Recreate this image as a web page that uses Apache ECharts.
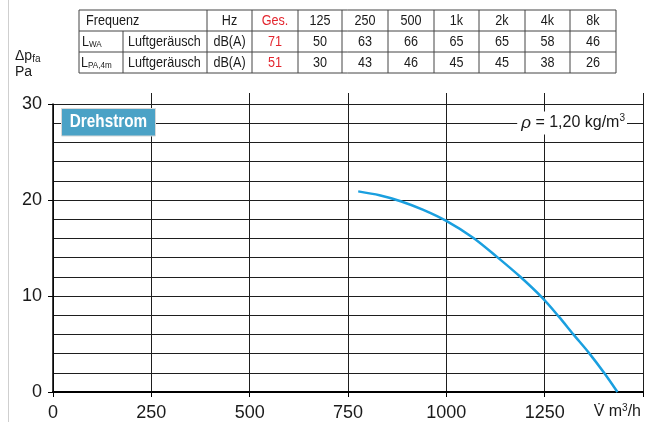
<!DOCTYPE html>
<html><head><meta charset="utf-8">
<script src="https://cdn.jsdelivr.net/npm/echarts@6/dist/echarts.min.js"></script>
<style>html,body{margin:0;padding:0;background:#fff}#c{width:650px;height:422px}</style>
</head><body><div id="c"></div>
<script>
// ---- data ----
const flowRate = [776, 830, 882, 940, 1001, 1069, 1128, 1188, 1243, 1285, 1323, 1364, 1401, 1435];
const pressure = [20.9, 20.5, 19.9, 19.0, 17.8, 16.05, 14.1, 12.0, 9.85, 7.9, 6.0, 4.0, 2.0, 0];
const xTicks = [0, 250, 500, 750, 1000, 1250];
const yTicks = [0, 10, 20, 30];
const freqHeader = ['125', '250', '500', '1k', '2k', '4k', '8k'];
const lwaValues = [50, 63, 66, 65, 65, 58, 46];
const lpaValues = [30, 43, 46, 45, 45, 38, 26];
const lwaTotal = 71;
const lpaTotal = 51;
const rowDesc = 'Luftgeräusch';
const unitLabel = 'dB(A)';

// ---- table build ----
const FONT = "'Liberation Sans',Arial,sans-serif";
const colX = [79, 123, 207, 252, 298, 342, 388, 434, 479, 525, 570, 616];
const rowY = [10, 31, 52, 73];
const red = '#e3262f';
const ink = '#1a1a1a';
const SX = 0.9;
const g = [];
const line = (x1, y1, x2, y2) => g.push({type: 'line', shape: {x1, y1, x2, y2}, style: {stroke: '#444', lineWidth: 1}, z: 50});
rowY.forEach(y => line(colX[0], y, colX[11], y));
colX.forEach((x, i) => { if (i === 1) line(x, rowY[1], x, rowY[3]); else line(x, rowY[0], x, rowY[3]); });
const txt = (x, y, s, opt = {}) => g.push({type: 'text', x, y, scaleX: SX, z: 51, style: Object.assign({text: s, font: '14px ' + FONT, fill: ink, textAlign: 'center', textVerticalAlign: 'middle'}, opt)});
const cy = r => (rowY[r] + rowY[r + 1]) / 2 + 0.5;
const cx = c => (colX[c] + colX[c + 1]) / 2;
txt(86, cy(0), 'Frequenz', {textAlign: 'left'});
txt(cx(2), cy(0), 'Hz');
txt(cx(3), cy(0), 'Ges.', {fill: red});
freqHeader.forEach((h, i) => txt(cx(4 + i), cy(0), h));
const subRich = {a: {font: '14px ' + FONT, fill: ink}, b: {font: '9px ' + FONT, fill: ink, padding: [6, 0, 0, 0]}};
g.push({type: 'text', x: 82, y: cy(1), scaleX: SX, z: 51, style: {text: '{a|L}{b|WA}', textVerticalAlign: 'middle', rich: subRich}});
g.push({type: 'text', x: 81, y: cy(2), scaleX: SX, z: 51, style: {text: '{a|L}{b|PA,4m}', textVerticalAlign: 'middle', rich: subRich}});
[1, 2].forEach(r => { txt(128, cy(r), rowDesc, {textAlign: 'left'}); txt(cx(2), cy(r), unitLabel); });
txt(cx(3), cy(1), String(lwaTotal), {fill: red});
txt(cx(3), cy(2), String(lpaTotal), {fill: red});
lwaValues.forEach((v, i) => txt(cx(4 + i), cy(1), String(v)));
lpaValues.forEach((v, i) => txt(cx(4 + i), cy(2), String(v)));

// left page border
g.push({type: 'line', shape: {x1: 8.5, y1: 0, x2: 8.5, y2: 422}, style: {stroke: '#cfcfcf', lineWidth: 1}, z: 1});
// y axis name
g.push({type: 'text', x: 15, y: 56, z: 51, style: {text: '{a|Δp}{b|fa}', textVerticalAlign: 'middle', rich: {a: {font: '14px ' + FONT, fill: ink}, b: {font: '10px ' + FONT, fill: ink, padding: [6, 0, 0, 0]}}}});
g.push({type: 'text', x: 15, y: 72, z: 51, style: {text: 'Pa', font: '14px ' + FONT, fill: ink, textVerticalAlign: 'middle'}});
// Drehstrom box
g.push({type: 'rect', shape: {x: 61.5, y: 108.5, width: 94, height: 27.5}, style: {fill: '#4ba2c6', stroke: '#d8d8d8', lineWidth: 1}, z: 60});
g.push({type: 'text', x: 108.5, y: 122.5, scaleX: 0.85, z: 61, style: {text: 'Drehstrom', font: 'bold 18px ' + FONT, fill: '#fff', textAlign: 'center', textVerticalAlign: 'middle'}});
// density label
g.push({type: 'text', x: 627, y: 123, z: 61, style: {text: '{i|ρ}{n| = 1,20 kg/m}{s|3}', textAlign: 'right', textVerticalAlign: 'middle', backgroundColor: '#fff', padding: [2, 2, 2, 4],
  rich: {i: {font: 'italic 17px ' + FONT, fill: ink}, n: {font: '16px ' + FONT, fill: ink}, s: {font: '10px ' + FONT, fill: ink, padding: [0, 0, 9, 0]}}}});
// x axis name
g.push({type: 'text', x: 641, y: 412, z: 61, style: {text: '{a|V̇ m}{s|3}{a|/h}', textAlign: 'right', textVerticalAlign: 'middle',
  rich: {a: {font: '16px ' + FONT, fill: ink}, s: {font: '10px ' + FONT, fill: ink, padding: [0, 0, 8, 0]}}}});

const gridLine = {color: '#1e1e1e', width: 1};
const option = {
  animation: false,
  grid: [{left: 53, right: 7, top: 104, bottom: 28}, {left: 53, right: 7, top: 93, height: 11}],
  xAxis: [{
    gridIndex: 0, type: 'value', min: 0, max: 1500, interval: 250,
    axisLine: {lineStyle: {color: '#000', width: 2}},
    axisTick: {length: 5, lineStyle: {color: '#000', width: 1}},
    axisLabel: {margin: 12, fontSize: 18, color: ink, fontFamily: 'Liberation Sans, Arial', formatter: v => xTicks.includes(v) ? String(v) : ''},
    splitLine: {show: true, lineStyle: gridLine}
  }, {
    gridIndex: 1, type: 'value', min: 0, max: 1500, interval: 250,
    axisLine: {show: false}, axisTick: {show: false}, axisLabel: {show: false},
    splitLine: {show: true, showMinLine: false, lineStyle: gridLine}
  }],
  yAxis: [{
    gridIndex: 0, type: 'value', min: 0, max: 30, interval: 10,
    axisLine: {show: true, lineStyle: {color: '#000', width: 1.5}},
    axisTick: {show: true, length: 5, lineStyle: {color: '#000'}},
    axisLabel: {margin: 11, fontSize: 18, color: ink, fontFamily: 'Liberation Sans, Arial', formatter: v => yTicks.includes(v) ? String(v) : ''},
    splitLine: {show: true, lineStyle: gridLine},
    minorTick: {show: false, splitNumber: 5},
    minorSplitLine: {show: true, lineStyle: gridLine}
  }, {gridIndex: 1, type: 'value', min: 0, max: 1, show: false}],
  series: [{
    type: 'line', xAxisIndex: 0, yAxisIndex: 0, smooth: 0.3, symbol: 'none',
    lineStyle: {color: '#1a9fdf', width: 2.5},
    data: flowRate.map((v, i) => [v, pressure[i]]), z: 10
  }],
  graphic: g
};
const chart = echarts.init(document.getElementById('c'), null, {renderer: 'canvas'});
chart.setOption(option);
</script></body></html>
